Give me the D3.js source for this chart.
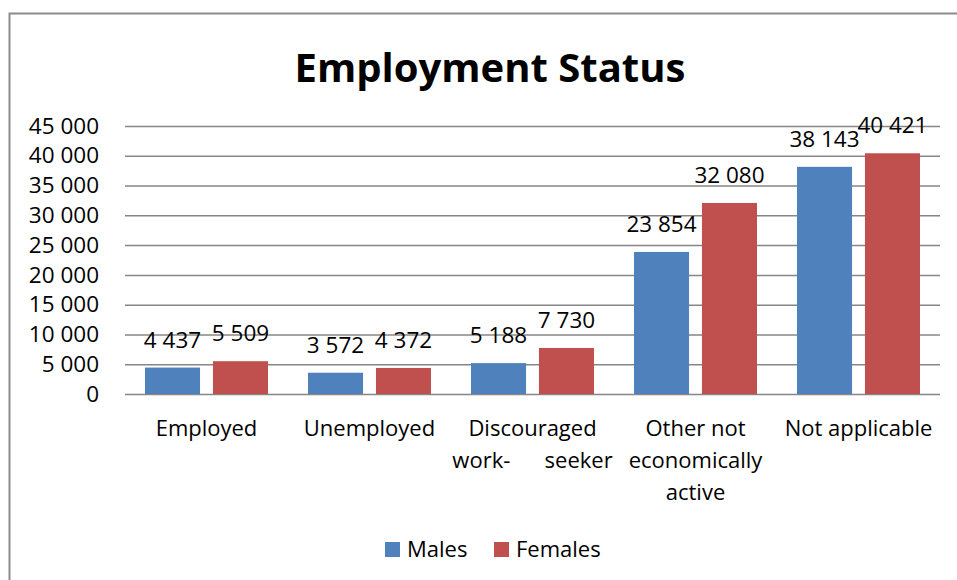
<!DOCTYPE html>
<html>
<head>
<meta charset="utf-8">
<script src="https://cdn.jsdelivr.net/npm/d3@7"></script>
<style>
  html, body { margin: 0; padding: 0; background: #fff; }
  svg { display: block; }
  text { font-family: "Open Sans", "Noto Sans", sans-serif; fill: #000; }
</style>
</head>
<body>
<svg id="chart" width="957" height="580"></svg>
<script>
// Employment status counts by sex
const categories = [
  ["Employed"],
  ["Unemployed"],
  ["Discouraged", "work-\u00a0\u00a0\u00a0\u00a0\u00a0\u00a0seeker"],
  ["Other not", "economically", "active"],
  ["Not applicable"]
];
const seriesNames = ["Males", "Females"];
const males   = [4437, 3572, 5188, 23854, 38143];
const females = [5509, 4372, 7730, 32080, 40421];
const yTicks  = [0, 5000, 10000, 15000, 20000, 25000, 30000, 35000, 40000, 45000];
const colors  = ["#4F81BD", "#C0504D"];

const svg = d3.select("#chart");
const plot = { left: 125, right: 940, top: 126, bottom: 394 };

const fmt = v => d3.format(",")(v).replace(/,/g, " ");

// outer frame
svg.append("rect")
  .attr("x", 9.5).attr("y", 13.5)
  .attr("width", 1000).attr("height", 700)
  .attr("fill", "none").attr("stroke", "#8c8c8c").attr("stroke-width", 2);

// title
svg.append("text")
  .attr("x", 490).attr("y", 82)
  .attr("text-anchor", "middle")
  .style("font-weight", "bold").style("font-size", "40px")
  .text("Employment Status");

const y = d3.scaleLinear().domain([0, 45000]).range([plot.bottom, plot.top]);
const keys = categories.map((c, i) => i);
const x0 = d3.scaleBand().domain(keys).range([plot.left, plot.right]).padding(0);
const x1 = d3.scaleBand().domain(seriesNames)
  .range([20, x0.bandwidth() - 20]).paddingInner(0.19).paddingOuter(0);

// gridlines + y labels
const yAxis = d3.axisLeft(y).tickValues(yTicks).tickFormat(fmt)
  .tickSize(-(plot.right - plot.left)).tickPadding(26);
const gy = svg.append("g").attr("transform", `translate(${plot.left},0)`).call(yAxis);
gy.select(".domain").remove();
gy.selectAll(".tick line").attr("stroke", "#868686").attr("stroke-width", 1.5);
gy.selectAll(".tick text").style("font-size", "22.5px").attr("fill", "#000")
  .style("font-family", '"Open Sans", sans-serif');

// bars
const rows = keys.map(i => ({ i, vals: [males[i], females[i]] }));
const groups = svg.append("g").selectAll("g").data(rows).join("g")
  .attr("transform", d => `translate(${x0(d.i)},0)`);

groups.selectAll("rect").data(d => d.vals.map((v, k) => ({ v, k })))
  .join("rect")
  .attr("x", d => x1(seriesNames[d.k]))
  .attr("width", x1.bandwidth())
  .attr("y", d => y(d.v))
  .attr("height", d => y(0) - y(d.v))
  .attr("fill", d => colors[d.k]);

// value labels
groups.selectAll("text.val").data(d => d.vals.map((v, k) => ({ v, k })))
  .join("text").attr("class", "val")
  .attr("x", d => x1(seriesNames[d.k]) + x1.bandwidth() / 2)
  .attr("y", d => y(d.v) - 20)
  .attr("text-anchor", "middle")
  .style("font-size", "22.5px")
  .text(d => fmt(d.v));

// category labels
const cat = svg.append("g").selectAll("text").data(categories).join("text")
  .attr("text-anchor", "middle")
  .style("font-size", "22px")
  .style("white-space", "pre")
  .attr("transform", (d, i) => `translate(${x0(i) + x0.bandwidth() / 2},436)`);
cat.selectAll("tspan").data(d => d).join("tspan")
  .attr("x", 0).attr("y", (d, j) => j * 32)
  .text(d => d);

// legend
const legend = svg.append("g").attr("transform", "translate(385,542)");
const legendX = [0, 109];
seriesNames.forEach((name, k) => {
  const g = legend.append("g").attr("transform", `translate(${legendX[k]},0)`);
  g.append("rect").attr("width", 15).attr("height", 15).attr("fill", colors[k]);
  g.append("text").attr("x", 22).attr("y", 15).style("font-size", "22px").text(name);
});
</script>
</body>
</html>
